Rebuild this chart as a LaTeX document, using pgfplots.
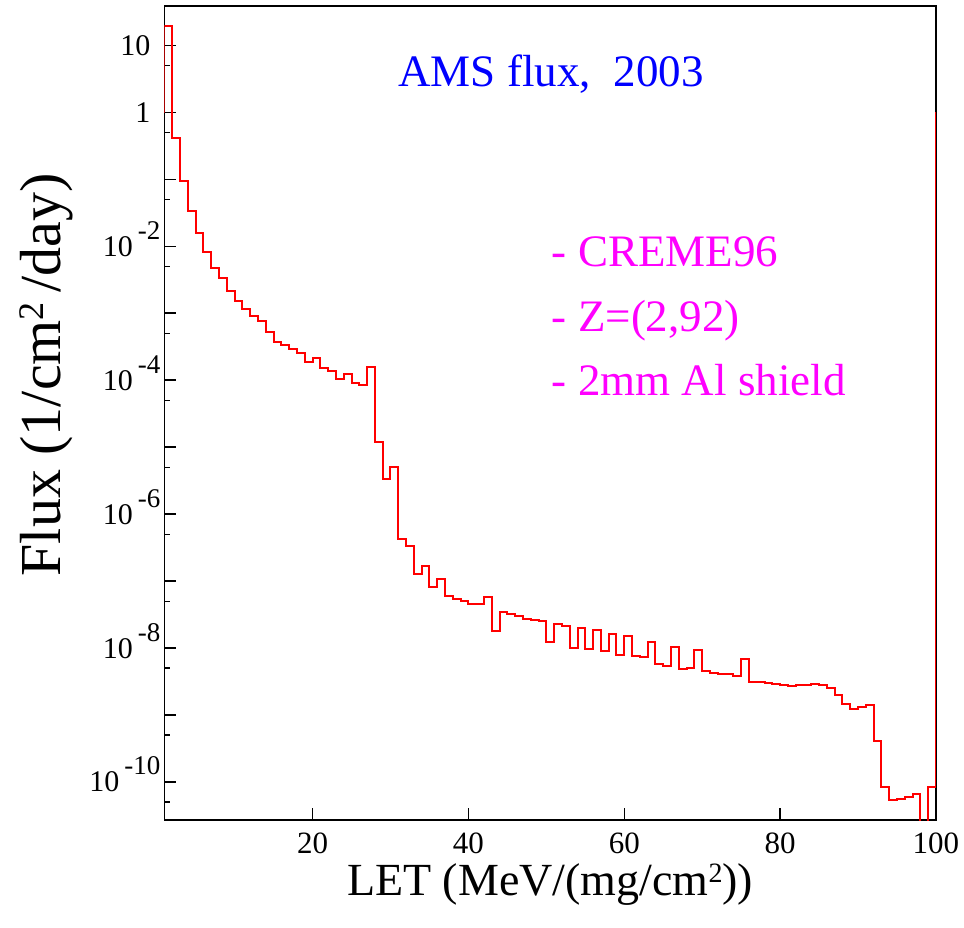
\documentclass[border=0pt]{standalone}
\usepackage{pgfplots}
\pgfplotsset{compat=1.18}
\usepackage{fontspec}
\setmainfont{Liberation Serif}
\newfontfamily\tms{Liberation Serif}
\definecolor{mag}{RGB}{255,0,255}
\definecolor{blu}{RGB}{0,0,255}
\definecolor{rd}{RGB}{255,0,0}
\newcommand{\tl}[1]{10\hspace{5pt}\raisebox{17pt}{\fontsize{27}{27}\selectfont #1}}
\newcommand{\supr}[3]{\raisebox{#2}{\fontsize{#1}{#1}\selectfont #3}}
\begin{document}
\begin{tikzpicture}
\useasboundingbox (-164.5pt,-107pt) rectangle (799.5pt,820pt);
\begin{axis}[
  scale only axis, width=771.5pt, height=814pt,
  at={(0,0)}, anchor=south west,
  xmin=1, xmax=100, ymode=log, ymin=2.7e-11, ymax=38.7,
  axis line style={line width=1.6pt, black},
  tick style={line width=1.4pt, black},
  major tick length=12pt, minor tick length=6pt,
  tick align=inside, xtick pos=bottom, ytick pos=left,
  xtick={20,40,60,80,100}, minor x tick num=0,
  /pgf/number format/assume math mode=true,
  xticklabel style={font=\tms\fontsize{31}{31}\selectfont, anchor=base, yshift=-33pt, inner sep=0pt},
  ytick={1e-10,1e-9,1e-8,1e-7,1e-6,1e-5,1e-4,1e-3,1e-2,1e-1,1,10},
  yticklabels={\tl{-10},,\tl{-8},,\tl{-6},,\tl{-4},,\tl{-2},,{1\hspace*{10pt}},{10\hspace*{10pt}}},
  minor ytick={5e-11,5e-10,5e-9,5e-8,5e-7,5e-6,5e-5,5e-4,5e-3,5e-2,5e-1,5},
  minor y tick num=0,
  yticklabel style={font=\tms\fontsize{30}{30}\selectfont, anchor=base east, inner sep=0pt, xshift=-4pt, yshift=-10pt},
  xlabel={LET (MeV/(mg/cm\supr{28}{13pt}{2}))},
  xlabel style={font=\tms\fontsize{46}{50}\selectfont, at={(axis description cs:0.5,0)}, anchor=base, yshift=-75pt, inner sep=0pt},
  ylabel={Flux (1/cm\supr{36}{17pt}{2}\,/day)},
  ylabel style={font=\tms\fontsize{58}{62}\selectfont, at={(axis description cs:-0.153,0.547)}, anchor=center, inner sep=0pt},
]
\addplot[rd, line width=2pt, const plot mark left] table {
x y
0.5 1
1 19.5
2 0.409
3 0.0942
4 0.0336
5 0.0159
6 8.28e-3
7 4.68e-3
8 3.31e-3
9 2.14e-3
10 1.53e-3
11 1.14e-3
12 9.06e-4
13 7.55e-4
14 5.28e-4
15 3.66e-4
16 3.34e-4
17 2.88e-4
18 2.56e-4
19 1.86e-4
20 2.12e-4
21 1.50e-4
22 1.38e-4
23 1.03e-4
24 1.23e-4
25 9.2e-5
26 8.45e-5
27 1.58e-4
28 1.18e-5
29 3.30e-6
30 4.99e-6
31 4.19e-7
32 3.37e-7
33 1.26e-7
34 1.68e-7
35 8.13e-8
36 1.06e-7
37 5.92e-8
38 5.43e-8
39 5.11e-8
40 4.56e-8
41 4.48e-8
42 5.82e-8
43 1.81e-8
44 3.40e-8
45 3.18e-8
46 2.96e-8
47 2.73e-8
48 2.61e-8
49 2.49e-8
50 1.22e-8
51 2.30e-8
52 2.15e-8
53 9.95e-9
54 2.00e-8
55 9.64e-9
56 1.85e-8
57 9.08e-9
58 1.63e-8
59 7.83e-9
60 1.49e-8
61 7.64e-9
62 7.31e-9
63 1.22e-8
64 5.75e-9
65 5.42e-9
66 1.05e-8
67 4.89e-9
68 5.01e-9
69 9.20e-9
70 4.52e-9
71 4.27e-9
72 4.07e-9
73 4.07e-9
74 3.80e-9
75 6.90e-9
76 3.13e-9
77 3.06e-9
78 2.99e-9
79 2.89e-9
80 2.82e-9
81 2.72e-9
82 2.82e-9
83 2.76e-9
84 2.89e-9
85 2.76e-9
86 2.55e-9
87 2.00e-9
88 1.45e-9
89 1.24e-9
90 1.30e-9
91 1.39e-9
92 4.11e-10
93 8.45e-11
94 5.35e-11
95 5.60e-11
96 6.00e-11
97 6.64e-11
98 1e-12
99 8.28e-11
100 1
};
\end{axis}
\node[anchor=base west, text=blu, font=\tms\fontsize{45}{50}\selectfont, inner sep=0pt] at (233.8pt,733.3pt) {AMS flux,\ \ 2003};
\node[anchor=base west, text=mag, font=\tms\fontsize{45}{50}\selectfont, inner sep=0pt] at (387.2pt,553.3pt) {- CREME96};
\node[anchor=base west, text=mag, font=\tms\fontsize{45}{50}\selectfont, inner sep=0pt] at (387.2pt,488pt) {- Z=(2,92)};
\node[anchor=base west, text=mag, font=\tms\fontsize{45}{50}\selectfont, inner sep=0pt] at (387.2pt,424pt) {- 2mm Al shield};
\end{tikzpicture}
\end{document}
